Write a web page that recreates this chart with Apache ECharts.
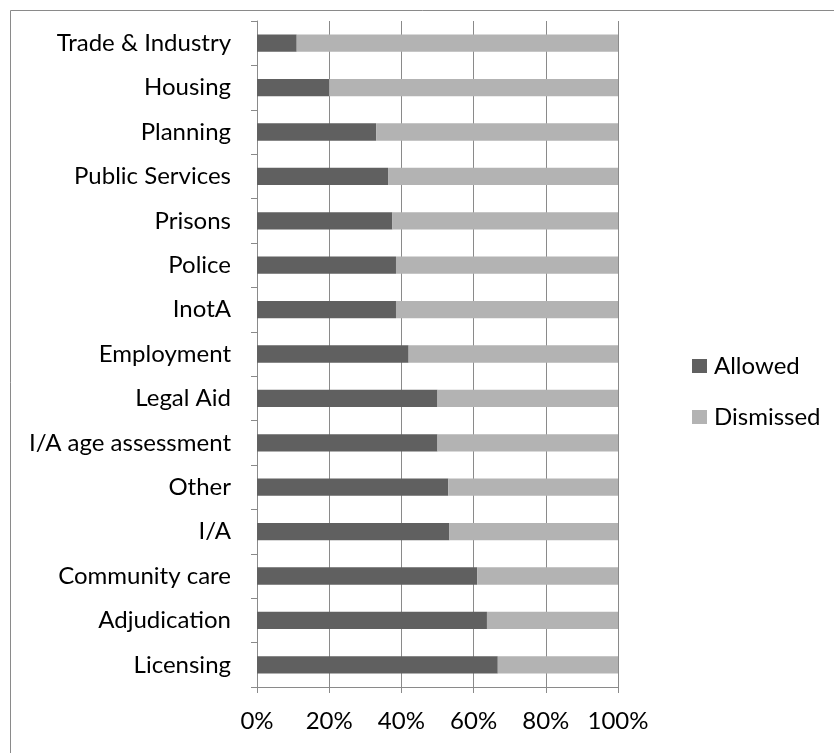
<!DOCTYPE html>
<html>
<head>
    <title>Allowed / Dismissed by category</title>
    <meta charset="utf-8">
</head>
<body style="height: 100%; margin: 0">
<div id="container" style="width: 834px; height: 753px"></div>
<script type="text/javascript" src="https://cdn.jsdelivr.net/npm/echarts@6/dist/echarts.min.js"></script>
<script type="text/javascript">
// categories, top to bottom as in the chart
var categories = ['Trade & Industry', 'Housing', 'Planning', 'Public Services', 'Prisons',
    'Police', 'InotA', 'Employment', 'Legal Aid', 'I/A age assessment',
    'Other', 'I/A', 'Community care', 'Adjudication', 'Licensing'];
// share of cases, percent
var allowed   = [11, 20, 33, 36.3, 37.5, 38.5, 38.5, 42, 50, 50, 53, 53.3, 61, 63.7, 66.7];
var dismissed = [89, 80, 67, 63.7, 62.5, 61.5, 61.5, 58, 50, 50, 47, 46.7, 39, 36.3, 33.3];
var xTicks = [0, 20, 40, 60, 80, 100];

var font = 'Lato';
var axisGrey = '#8a8a8a';
var fs = 24;

var myChart = echarts.init(document.getElementById('container'));
var option = {
    animation: false,
    backgroundColor: '#fff',
    textStyle: { fontFamily: font },
    graphic: [{
        type: 'rect',
        shape: { x: 10.5, y: 10.5, width: 900, height: 800 },
        style: { fill: 'none', stroke: axisGrey, lineWidth: 1 }
    }],
    legend: {
        orient: 'vertical',
        left: 687,
        top: 349,
        itemWidth: 15,
        itemHeight: 14,
        itemGap: 27,
        icon: 'rect',
        textStyle: { fontFamily: font, fontSize: fs, color: '#000', padding: [0, 0, 0, 2] },
        data: ['Allowed', 'Dismissed']
    },
    grid: { left: 257, right: 216, top: 21, bottom: 66, containLabel: false },
    xAxis: {
        type: 'value',
        min: xTicks[0],
        max: xTicks[xTicks.length - 1],
        interval: 20,
        axisLine: { show: true, lineStyle: { color: axisGrey } },
        axisTick: { show: true, length: 6, lineStyle: { color: axisGrey } },
        splitLine: { show: true, lineStyle: { color: axisGrey, width: 1 } },
        axisLabel: { formatter: '{value}%', fontFamily: font, fontSize: fs, color: '#000', margin: 22 }
    },
    yAxis: {
        type: 'category',
        inverse: true,
        data: categories,
        axisLine: { show: true, lineStyle: { color: axisGrey } },
        axisTick: { show: true, length: 6, lineStyle: { color: axisGrey } },
        axisLabel: { fontFamily: font, fontSize: fs, color: '#000', margin: 26 }
    },
    series: [{
        name: 'Allowed',
        type: 'bar',
        stack: 'total',
        barCategoryGap: '61%',
        itemStyle: { color: '#606060' },
        data: allowed
    }, {
        name: 'Dismissed',
        type: 'bar',
        stack: 'total',
        barCategoryGap: '61%',
        itemStyle: { color: '#b3b3b3' },
        data: dismissed
    }]
};
myChart.setOption(option);
</script>
</body>
</html>
